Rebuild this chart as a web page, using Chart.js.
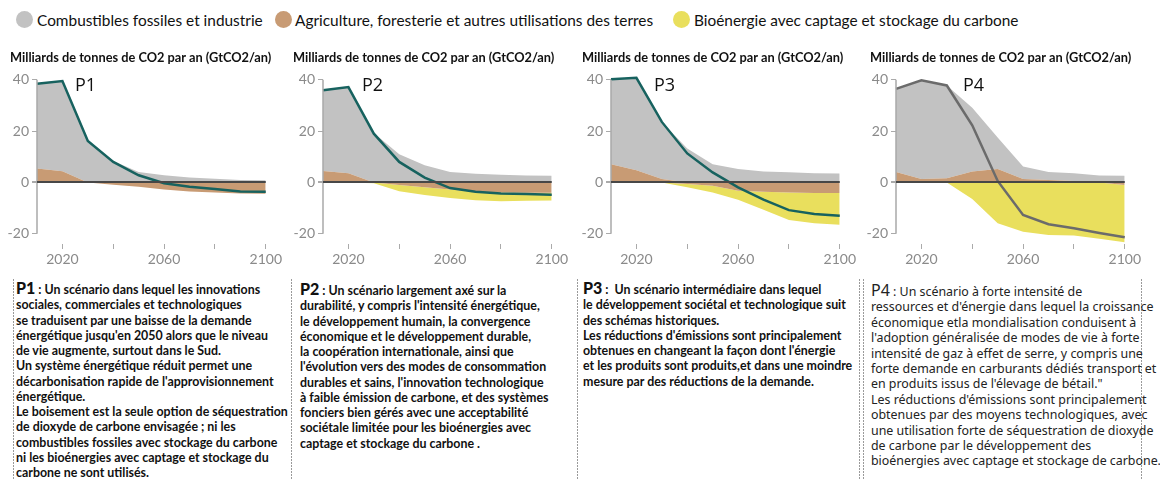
<!DOCTYPE html>
<html>
<head>
<meta charset="utf-8">
<script src="https://cdn.jsdelivr.net/npm/chart.js@4.4.1/dist/chart.umd.min.js"></script>
<style>
body { margin: 0; width: 1160px; height: 479px; position: relative; overflow: hidden; background: #fff; font-family: Lato, sans-serif; color: #111; }
.dot { position: absolute; top: 11px; width: 17px; height: 17px; border-radius: 50%; }
.lg { position: absolute; top: 9px; font-size: 15.4px; line-height: 22px; white-space: nowrap; }
.ttl { position: absolute; top: 49px; font-weight: 700; font-size: 12.8px; line-height: 16px; white-space: nowrap; }
.plab { position: absolute; top: 74px; font-family: "Open Sans", sans-serif; font-size: 18px; line-height: 20px; }
canvas { position: absolute; top: 56px; }
.vline { position: absolute; top: 279px; width: 1px; height: 200px; background: repeating-linear-gradient(to bottom, #9a9a9a 0 2px, transparent 2px 3px); }
.txt { position: absolute; white-space: nowrap; font-weight: 700; font-size: 12.4px; line-height: 15.25px; }
.txt b { font-size: 16px; }
.t4 { font-family: "Noto Sans", sans-serif; font-weight: 400; font-size: 12.4px; line-height: 15.4px; color: #222; }
.t4 b { font-weight: 400; font-size: 16px; }
</style>
</head>
<body>
<span class="dot" style="left:16px;background:#c2c2c2"></span><span class="lg" style="left:37px">Combustibles fossiles et industrie</span>
<span class="dot" style="left:275px;background:#c89b74"></span><span class="lg" style="left:295px">Agriculture, foresterie et autres utilisations des terres</span>
<span class="dot" style="left:673px;background:#e9df5d"></span><span class="lg" style="left:694px">Bioénergie avec captage et stockage du carbone</span>

<canvas id="c1" width="277" height="216" style="left:7px"></canvas>
<canvas id="c2" width="277" height="216" style="left:293px"></canvas>
<canvas id="c3" width="277" height="216" style="left:581px"></canvas>
<canvas id="c4" width="277" height="216" style="left:866px"></canvas>

<div class="ttl" style="left:10px">Milliards de tonnes de CO2 par an (GtCO2/an)</div>
<div class="ttl" style="left:293px">Milliards de tonnes de CO2 par an (GtCO2/an)</div>
<div class="ttl" style="left:582px">Milliards de tonnes de CO2 par an (GtCO2/an)</div>
<div class="ttl" style="left:870px">Milliards de tonnes de CO2 par an (GtCO2/an)</div>

<div class="plab" style="left:75px">P1</div>
<div class="plab" style="left:362px">P2</div>
<div class="plab" style="left:654px">P3</div>
<div class="plab" style="left:963px">P4</div>

<div class="vline" style="left:13px"></div>
<div class="vline" style="left:291px"></div>
<div class="vline" style="left:577px"></div>
<div class="vline" style="left:859px"></div>
<div class="vline" style="left:863px"></div>
<div class="vline" style="left:1141px"></div>

<div class="txt" style="left:16px;top:280px"><b>P1</b> : Un scénario dans lequel les innovations<br>sociales, commerciales et technologiques<br>se traduisent par une baisse de la demande<br>énergétique jusqu'en 2050 alors que le niveau<br>de vie augmente, surtout dans le Sud.<br>Un système énergétique réduit permet une<br>décarbonisation rapide de l'approvisionnement<br>énergétique.<br>Le boisement est la seule option de séquestration<br>de dioxyde de carbone envisagée ; ni les<br>combustibles fossiles avec stockage du carbone<br>ni les bioénergies avec captage et stockage du<br>carbone ne sont utilisés.</div>

<div class="txt" style="left:300px;top:281px"><b>P2</b> : Un scénario largement axé sur la<br>durabilité, y compris l'intensité énergétique,<br>le développement humain, la convergence<br>économique et le développement durable,<br>la coopération internationale, ainsi que<br>l'évolution vers des modes de consommation<br>durables et sains, l'innovation technologique<br>à faible émission de carbone, et des systèmes<br>fonciers bien gérés avec une acceptabilité<br>sociétale limitée pour les bioénergies avec<br>captage et stockage du carbone .</div>

<div class="txt" style="left:583px;top:280px"><b>P3</b> :&nbsp; Un scénario intermédiaire dans lequel<br>le développement sociétal et technologique suit<br>des schémas historiques.<br>Les réductions d'émissions sont principalement<br>obtenues en changeant la façon dont l'énergie<br>et les produits sont produits,et dans une moindre<br>mesure par des réductions de la demande.</div>

<div class="txt t4" style="left:871px;top:283px"><b>P4</b> : Un scénario à forte intensité de<br>ressources et d'énergie dans lequel la croissance<br>économique etla mondialisation conduisent à<br>l'adoption généralisée de modes de vie à forte<br>intensité de gaz à effet de serre, y compris une<br>forte demande en carburants dédiés transport et<br>en produits issus de l'élevage de bétail."<br>Les réductions d'émissions sont principalement<br>obtenues par des moyens technologiques, avec<br>une utilisation forte de séquestration de dioxyde<br>de carbone par le développement des<br>bioénergies avec captage et stockage de carbone.</div>

<script>
const years = [2010, 2020, 2030, 2040, 2050, 2060, 2070, 2080, 2090, 2100];
const xTickYears = [2020, 2040, 2060, 2080, 2100];
const xLabelYears = [2020, 2060, 2100];
const yTicks = [-20, 0, 20, 40];

// P1
const fossilP1 = [33.1, 35.1, 16.2, 8.4, 4.1, 2.8, 1.9, 1.4, 1.0, 0.9];
const agriP1 = [5.4, 4.4, 0, -0.9, -1.7, -2.8, -3.5, -3.9, -4.3, -4.4];
const beccsP1 = [0, 0, 0, 0, 0, 0, 0, 0, 0, 0];
const netP1 = [38.5, 39.5, 16.2, 8.0, 2.8, -0.3, -1.7, -2.6, -3.5, -3.6];

// P2
const fossilP2 = [31.4, 33.6, 19.3, 11.0, 6.7, 4.1, 3.4, 3.0, 2.7, 2.6];
const agriP2 = [4.5, 3.6, 0, -1.0, -1.9, -2.8, -3.6, -3.9, -4.0, -4.0];
const beccsP2 = [0, 0, -0.3, -2.4, -3.0, -3.3, -3.3, -3.4, -3.1, -3.0];
const netP2 = [35.9, 37.2, 19.0, 8.0, 1.9, -2.2, -3.6, -4.3, -4.5, -4.8];

// P3
const fossilP3 = [33.1, 36.0, 22.3, 13.2, 7.1, 5.2, 4.3, 4.0, 3.6, 3.5];
const agriP3 = [7.1, 4.8, 1.3, -0.6, -1.3, -3.2, -3.6, -3.9, -4.1, -4.1];
const beccsP3 = [0, 0, 0, -1.3, -2.6, -3.5, -7.0, -10.7, -11.8, -12.4];
const netP3 = [40.2, 40.8, 23.6, 11.3, 3.9, -1.9, -6.7, -10.8, -12.3, -13.0];

// P4
const fossilP4 = [32.4, 38.5, 36.2, 24.8, 12.3, 4.9, 3.1, 3.0, 2.7, 2.6];
const agriP4 = [4.1, 1.3, 1.6, 4.3, 5.2, 1.3, 1.0, 0.6, 0, -1.0];
const beccsP4 = [0, 0, 0, -6.5, -15.9, -19.2, -20.5, -20.7, -22.0, -22.3];
const netP4 = [36.5, 39.8, 37.8, 22.3, 0.6, -12.7, -16.3, -17.9, -19.7, -21.4];

const GREY = '#c2c2c2', BROWN = '#c89b74', YELLOW = '#e9df5d';
const TEAL = '#17625f', DARKGREY = '#6b6b6b';

// vertical axis line from 40 down to -20
const axisLine = {
    id: 'axisLine',
    afterDatasetsDraw(chart) {
        const { ctx, chartArea, scales } = chart;
        ctx.save();
        ctx.strokeStyle = '#a8a8a8';
        ctx.lineWidth = 1.5;
        ctx.beginPath();
        ctx.moveTo(chartArea.left, scales.y.getPixelForValue(40));
        ctx.lineTo(chartArea.left, scales.y.getPixelForValue(-20));
        ctx.stroke();
        ctx.restore();
    }
};

function pts(values) {
    return years.map((yr, i) => ({ x: yr, y: values[i] }));
}

function area(values, fill, color) {
    return {
        data: pts(values),
        fill: fill,
        backgroundColor: color,
        borderColor: 'transparent',
        borderWidth: 0,
        pointRadius: 0,
        tension: 0
    };
}

function createChart(id, fossil, agri, beccs, net, lineColor) {
    const agriPos = agri.map(v => Math.max(v, 0));
    const agriNeg = agri.map(v => Math.min(v, 0));
    const greyTop = fossil.map((v, i) => agriPos[i] + v);
    const bottom = beccs.map((v, i) => agriNeg[i] + v);

    new Chart(document.getElementById(id), {
        type: 'line',
        data: {
            datasets: [
                {
                    data: pts(net),
                    borderColor: lineColor,
                    borderWidth: 2.5,
                    pointRadius: 0,
                    fill: false,
                    tension: 0,
                    clip: false
                },
                area(agriPos, 'origin', BROWN),
                area(greyTop, 1, GREY),
                area(agriNeg, 'origin', BROWN),
                area(bottom, 3, YELLOW)
            ]
        },
        options: {
            responsive: false,
            animation: false,
            layout: { padding: { top: 20, right: 18, left: 0, bottom: 0 } },
            plugins: { legend: { display: false }, tooltip: { enabled: false } },
            scales: {
                x: {
                    type: 'linear',
                    min: 2010,
                    max: 2100,
                    afterBuildTicks: (axis) => { axis.ticks = xTickYears.map(v => ({ value: v })); },
                    afterFit: (axis) => { axis.height = 28; },
                    ticks: {
                        autoSkip: false,
                        maxRotation: 0,
                        padding: 2,
                        color: '#8a8a8a',
                        font: { family: 'Lato', size: 14 },
                        callback: (v) => xLabelYears.includes(v) ? String(v) : ''
                    },
                    grid: { drawOnChartArea: false, tickLength: 5, tickColor: '#aaaaaa', tickWidth: 1 },
                    border: { display: false }
                },
                y: {
                    min: -24,
                    max: 41.5,
                    afterBuildTicks: (axis) => { axis.ticks = yTicks.map(v => ({ value: v })); },
                    afterFit: (axis) => { axis.width = 30; },
                    ticks: {
                        padding: 3,
                        color: '#8a8a8a',
                        font: { family: 'Lato', size: 14 }
                    },
                    grid: {
                        z: 1,
                        tickLength: 5,
                        tickColor: '#aaaaaa',
                        color: (c) => c.tick && c.tick.value === 0 ? '#474747' : 'rgba(0,0,0,0)',
                        lineWidth: (c) => c.tick && c.tick.value === 0 ? 2 : 1
                    },
                    border: { display: false }
                }
            }
        },
        plugins: [axisLine]
    });
}

window.addEventListener('load', () => {
    createChart('c1', fossilP1, agriP1, beccsP1, netP1, TEAL);
    createChart('c2', fossilP2, agriP2, beccsP2, netP2, TEAL);
    createChart('c3', fossilP3, agriP3, beccsP3, netP3, TEAL);
    createChart('c4', fossilP4, agriP4, beccsP4, netP4, DARKGREY);
});
</script>
</body>
</html>
